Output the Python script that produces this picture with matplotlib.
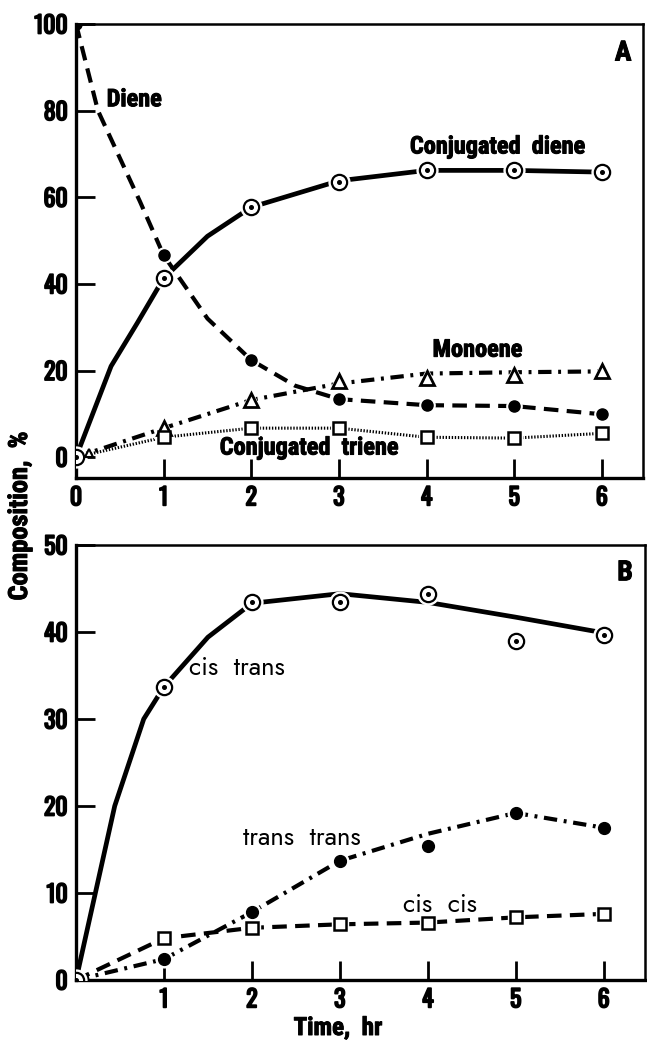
import matplotlib
matplotlib.use("Agg")
import matplotlib.pyplot as plt
import matplotlib.patheffects as pe
from matplotlib import font_manager

# ---- data ----
# panel A
hours = [0, 1, 2, 3, 4, 5, 6]
conj_diene = [0, 41.3, 57.7, 63.5, 66.2, 66.2, 65.8]
diene = [100, 46.6, 22.4, 13.4, 12.0, 11.8, 9.9]
monoene_t = [0, 0.15, 1, 2, 3, 4, 5, 6]
monoene = [0, 1.0, 6.7, 13.2, 17.6, 18.2, 19.0, 19.8]
conj_triene = [0, 4.6, 6.7, 6.7, 4.6, 4.4, 5.5]

# drawn curves of panel A
conj_diene_curve_t = [0, 0.4, 0.7, 1, 1.5, 2, 3, 4, 5, 6]
conj_diene_curve = [0, 21, 31, 41.3, 51, 57.7, 63.8, 66.2, 66.2, 65.8]
diene_curve_t = [0, 0.25, 0.73, 1, 1.5, 2, 2.5, 3, 4, 5, 6]
diene_curve = [100, 80, 59, 46.6, 32, 22.4, 16.5, 13.4, 12.0, 11.8, 9.9]
monoene_curve = [0, 1.0, 6.7, 13.2, 17.0, 19.3, 19.6, 19.8]

# panel B
cis_trans = [0, 33.7, 43.5, 43.5, 44.4, 39.0, 39.7]
trans_trans = [0, 2.4, 7.8, 13.7, 15.4, 19.2, 17.5]
cis_cis = [0, 4.8, 6.0, 6.4, 6.6, 7.2, 7.6]

cis_trans_curve_t = [0, 0.22, 0.44, 0.77, 1, 1.5, 2, 3, 4, 5, 6]
cis_trans_curve = [0, 10, 20, 30, 33.7, 39.4, 43.3, 44.4, 43.4, 41.7, 39.9]
trans_trans_curve = [0, 2.4, 7.8, 13.7, 16.8, 19.2, 17.5]


installed = set(f.name for f in font_manager.fontManager.ttflist)

def pick(cands):
    return [c for c in cands if c in installed] + ["DejaVu Sans"]

bold_font = pick(["Roboto Condensed", "Archivo Narrow", "PT Sans Narrow",
                  "Barlow Condensed", "Oswald"])
digit_font = pick(["Oswald", "Roboto Condensed"])
light_font = pick(["Jost", "Didact Gothic", "Questrial", "Lato"])
plt.rcParams["font.family"] = bold_font
plt.rcParams["font.weight"] = "bold"
heavy = [pe.withStroke(linewidth=0.7, foreground="black")]
heavier = [pe.withStroke(linewidth=1.3, foreground="black")]

fig = plt.figure(figsize=(6.47, 10.42), dpi=100)
axA = fig.add_axes([0.1175, 0.5413, 0.8763, 0.4357])
axB = fig.add_axes([0.1175, 0.0595, 0.8794, 0.4175])

LW = 3.0
dash = [3.5, 2.0]
dashdot = [3.2, 1.6, 0.7, 1.6]
dotted = [0.45, 0.55]

def halo(ax, x, y, m, ms):
    ax.plot(x, y, m, ms=ms, color="white", zorder=4)

def open_dot(ax, x, y):
    halo(ax, x, y, "o", 15)
    ax.plot(x, y, "o", ms=11, mfc="white", mec="black", mew=1.6, zorder=5)
    ax.plot(x, y, "o", ms=2.6, color="black", zorder=6)

def label(ax, x, y, s, **kw):
    ax.text(x, y, s, fontsize=17.5, va="center", path_effects=heavy, **kw)

def light_label(ax, x, y, s):
    ax.text(x, y, s, fontsize=18.5, family=light_font, weight="normal",
            va="center", ha="left")

# ---- panel A ----
axA.plot(conj_diene_curve_t, conj_diene_curve, "-", color="black", lw=3.4, zorder=2)
open_dot(axA, hours, conj_diene)

axA.plot(diene_curve_t, diene_curve, color="black", lw=LW, dashes=dash, zorder=2)
halo(axA, hours[1:], diene[1:], "o", 11)
axA.plot(hours, diene, "o", ms=8, color="black", zorder=5)

axA.plot(monoene_t, monoene_curve, color="black", lw=LW, dashes=dashdot, zorder=2)
halo(axA, monoene_t[2:], monoene[2:], "^", 14)
axA.plot(monoene_t[2:], monoene[2:], "^", ms=10, mfc="white", mec="black", mew=2, zorder=5)
axA.plot(monoene_t[1:2], monoene[1:2], "^", ms=6, mfc="white", mec="black", mew=1.5, zorder=5)

axA.plot(hours, conj_triene, color="black", lw=2.2, dashes=dotted, zorder=2)
halo(axA, hours[1:], conj_triene[1:], "s", 12)
axA.plot(hours[1:], conj_triene[1:], "s", ms=8.5, mfc="white", mec="black", mew=1.8, zorder=5)

axA.set_xlim(0, 6.47)
axA.set_ylim(-4.8, 100)
axA.set_yticks([0, 20, 40, 60, 80, 100])
axA.set_xticks([0, 1, 2, 3, 4, 5, 6])

label(axA, 0.35, 82.5, "Diene", ha="left")
label(axA, 3.81, 71.6, "Conjugated  diene", ha="left")
label(axA, 4.58, 24.7, "Monoene", ha="center")
label(axA, 1.64, 2.1, "Conjugated  triene", ha="left")
axA.text(0.965, 0.936, "A", transform=axA.transAxes, fontsize=20,
         ha="center", va="center", path_effects=heavy)

# ---- panel B ----
axB.plot(cis_trans_curve_t, cis_trans_curve, "-", color="black", lw=3.4, zorder=2)
open_dot(axB, hours, cis_trans)

axB.plot(hours, trans_trans_curve, color="black", lw=LW, dashes=dashdot, zorder=2)
halo(axB, hours[1:], trans_trans[1:], "o", 12)
axB.plot(hours[1:], trans_trans[1:], "o", ms=8.5, color="black", zorder=5)

axB.plot(hours, cis_cis, color="black", lw=LW, dashes=dash, zorder=2)
halo(axB, hours[1:], cis_cis[1:], "s", 12)
axB.plot(hours[1:], cis_cis[1:], "s", ms=8.5, mfc="white", mec="black", mew=1.8, zorder=5)

axB.set_xlim(0, 6.47)
axB.set_ylim(0, 50)
axB.set_yticks([0, 10, 20, 30, 40, 50])
axB.set_xticks([1, 2, 3, 4, 5, 6])

light_label(axB, 1.28, 35.9, "cis  trans")
light_label(axB, 1.9, 16.3, "trans  trans")
light_label(axB, 3.72, 8.6, "cis  cis")
axB.text(0.965, 0.936, "B", transform=axB.transAxes, fontsize=20,
         ha="center", va="center", path_effects=heavy)

for ax in (axA, axB):
    for side in ("left", "bottom"):
        ax.spines[side].set_linewidth(2.4)
    for side in ("top", "right"):
        ax.spines[side].set_linewidth(1.8)
    ax.tick_params(direction="in", length=14, width=2, labelsize=17, pad=6)
    for lab in ax.get_xticklabels() + ax.get_yticklabels():
        lab.set_family(digit_font)
        lab.set_fontweight("bold")
        lab.set_path_effects(heavier)

fig.text(20 / 647, 1 - 516 / 1042, "Composition,  %", rotation=90,
         fontsize=19, ha="center", va="center", path_effects=heavy)
fig.text(338 / 647, 1 - 1028 / 1042, "Time,  hr", fontsize=18,
         ha="center", va="center", path_effects=heavy)

fig.savefig("out.png", dpi=100)
